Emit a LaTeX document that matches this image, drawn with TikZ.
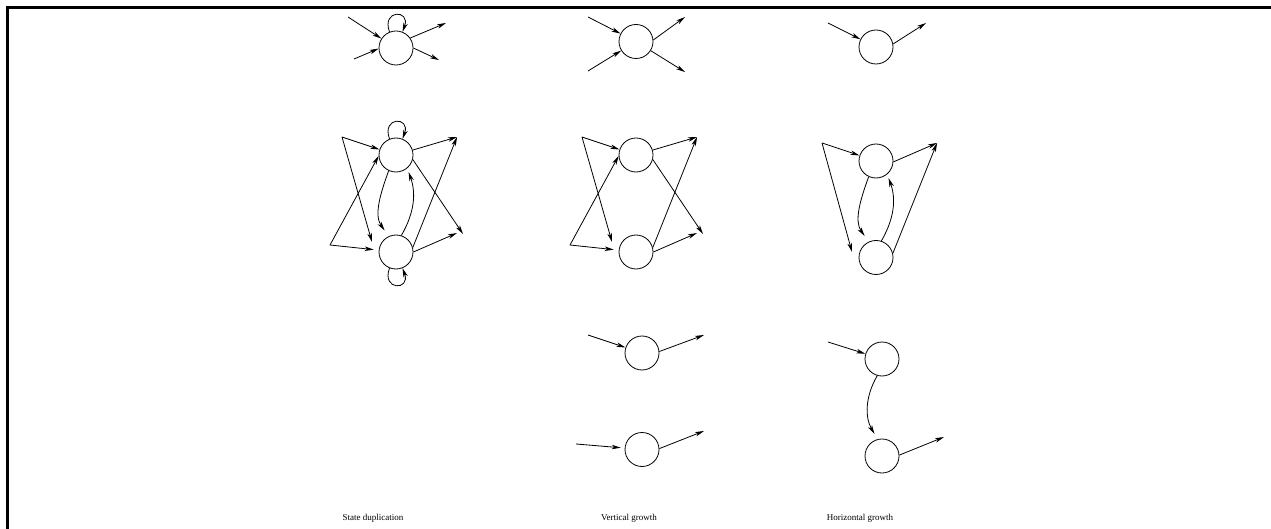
\documentclass[tikz,border=0pt]{standalone}
\usepackage{fontspec}
\setmainfont{Liberation Serif}
\usetikzlibrary{arrows.meta}
\begin{document}
\begin{tikzpicture}[x=1pt,y=1pt,
  st/.style={circle,draw,line width=0.8pt,minimum size=34pt,inner sep=0pt},
  ar/.style={-{Stealth[length=9pt,width=4.5pt,inset=2.5pt]},line width=0.8pt},
  lbl/.style={font=\fontsize{9}{10}\selectfont,anchor=base}]
\useasboundingbox (0,0) rectangle (1271,-529);
\draw[line width=3pt] (1271,-7.5) -- (7.5,-7.5) -- (7.5,-529);

% ---------- Column 1: State duplication ----------
\node[st] (c1a) at (396,-48) {};
\coordinate (p1a) at (348,-17);
\coordinate (p1b) at (354,-59);
\coordinate (q1a) at (446,-23);
\coordinate (q1b) at (439,-60);
\draw[ar] (p1a) -- (c1a);
\draw[ar] (p1b) -- (c1a.182);
\draw[ar] (c1a.35) -- (q1a);
\draw[ar] (c1a.east) -- (q1b);
\draw[ar] (c1a.112) .. controls +(110:24) and +(70:24) .. (c1a.68);

\node[st] (c1c) at (396,-155) {};
\node[st] (c1d) at (396,-252) {};
\coordinate (A1) at (342,-137);
\coordinate (B1) at (330,-245);
\coordinate (C1) at (457,-137);
\coordinate (D1) at (463,-234);
\coordinate (E1) at (457,-233);
\coordinate (F1) at (372,-242);
\draw[ar] (A1) -- (c1c);
\draw[ar] (A1) -- (F1);
\draw[ar] (B1) -- (c1c.183);
\draw[ar,shorten >=5pt] (B1) -- (c1d);
\draw[ar] (c1c) -- (C1);
\draw[ar] (c1d.15) -- (C1);
\draw[ar] (c1c.-15) -- (D1);
\draw[ar] (c1d.east) -- (E1);
\draw[ar] (c1c.112) .. controls +(110:24) and +(70:24) .. (c1c.68);
\draw[ar] (c1d.-112) .. controls +(-110:24) and +(-70:24) .. (c1d.-68);
\draw[ar,shorten >=7pt] (c1c.245) to[out=250,in=125] (c1d.115);
\draw[ar,shorten >=4pt] (c1d.72) to[out=60,in=290] (c1c.-50);

% ---------- Column 2: Vertical growth ----------
\node[st] (c2a) at (636,-41.5) {};
\coordinate (p2a) at (588,-17);
\coordinate (p2b) at (588,-71);
\coordinate (q2a) at (685,-17);
\coordinate (q2b) at (685,-72);
\draw[ar] (p2a) -- (c2a);
\draw[ar] (p2b) -- (c2a);
\draw[ar] (c2a.5) -- (q2a);
\draw[ar] (c2a) -- (q2b);

\node[st] (c2c) at (636,-155) {};
\node[st] (c2d) at (636,-252) {};
\coordinate (A2) at (582,-137);
\coordinate (B2) at (570,-245);
\coordinate (C2) at (697,-137);
\coordinate (D2) at (703,-234);
\coordinate (E2) at (697,-233);
\coordinate (F2) at (612,-242);
\draw[ar] (A2) -- (c2c);
\draw[ar] (A2) -- (F2);
\draw[ar] (B2) -- (c2c.183);
\draw[ar,shorten >=5pt] (B2) -- (c2d);
\draw[ar] (c2c) -- (C2);
\draw[ar] (c2d.15) -- (C2);
\draw[ar] (c2c.-15) -- (D2);
\draw[ar] (c2d.east) -- (E2);

\node[st] (c2e) at (642,-353) {};
\node[st] (c2f) at (642,-449.5) {};
\coordinate (p2e) at (588,-335);
\coordinate (q2e) at (704,-335);
\coordinate (p2f) at (576,-444);
\coordinate (q2f) at (704,-431);
\draw[ar] (p2e) -- (c2e);
\draw[ar] (c2e.5) -- (q2e);
\draw[ar,shorten >=4pt] (p2f) -- (c2f);
\draw[ar] (c2f.3) -- (q2f);

% ---------- Column 3: Horizontal growth ----------
\node[st] (c3a) at (876,-47) {};
\coordinate (p3a) at (828,-23);
\coordinate (q3a) at (926,-23);
\draw[ar] (p3a) -- (c3a);
\draw[ar] (c3a.10) -- (q3a);

\node[st] (c3c) at (876,-161) {};
\node[st] (c3d) at (876,-257.5) {};
\coordinate (A3) at (822,-143);
\coordinate (C3) at (937,-143);
\coordinate (F3) at (852,-252);
\draw[ar] (A3) -- (c3c);
\draw[ar] (A3) -- (F3);
\draw[ar] (c3c.-3) -- (C3);
\draw[ar] (c3d.14) -- (C3);
\draw[ar,shorten >=7pt] (c3c.245) to[out=250,in=125] (c3d.115);
\draw[ar,shorten >=4pt] (c3d.72) to[out=60,in=290] (c3c.-50);

\node[st] (c3e) at (882,-359) {};
\node[st] (c3f) at (882,-456) {};
\coordinate (p3e) at (828,-342);
\coordinate (q3f) at (944,-437);
\draw[ar] (p3e) -- (c3e);
\draw[ar] (c3f.3) -- (q3f);
\draw[ar,shorten >=6pt] (c3e.254) to[out=240,in=120] (c3f.105);

% ---------- Labels ----------
\node[lbl] (l1) at (373,-520) {State duplication};
\node[lbl] (l2) at (629,-520) {Vertical growth};
\node[lbl] (l3) at (860,-520) {Horizontal growth};
\end{tikzpicture}
\end{document}
